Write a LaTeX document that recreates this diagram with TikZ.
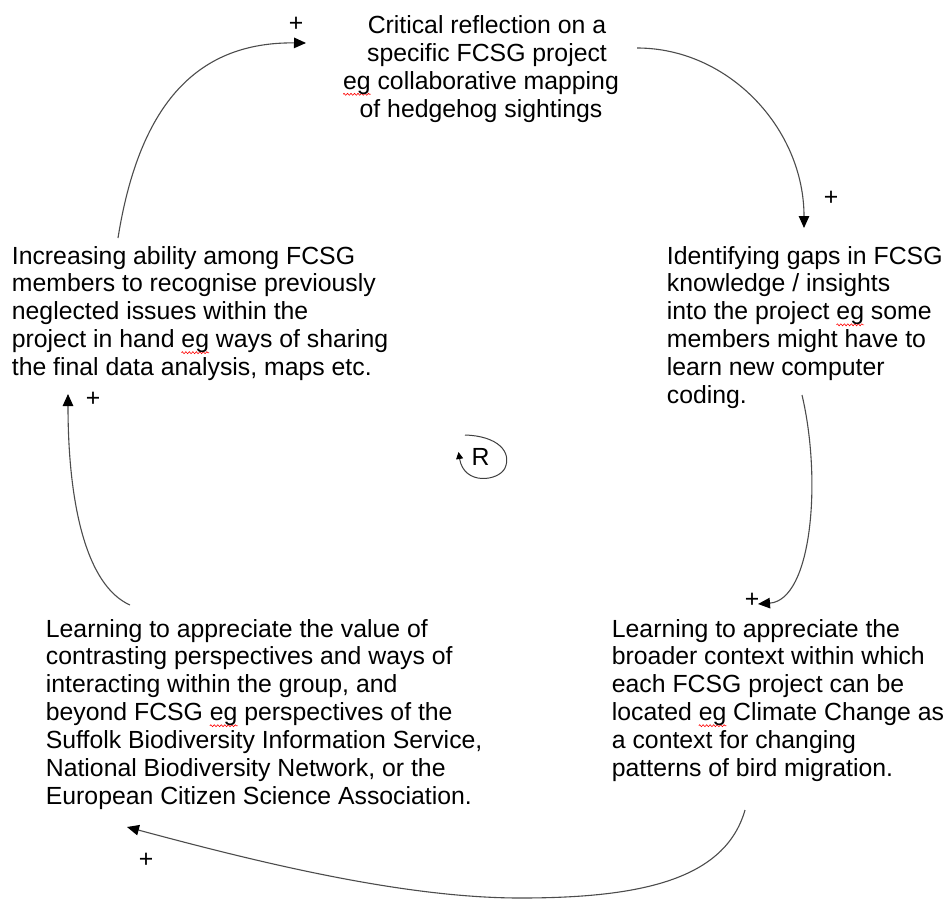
\documentclass[tikz,border=0pt]{standalone}
\usepackage{fontspec}
\setmainfont{Liberation Sans}
\usetikzlibrary{arrows.meta,decorations.pathmorphing}
\newsavebox\sqbox
\newcommand\sqeg[1]{\sbox\sqbox{#1}\rlap{\tikz[overlay,x=1pt,y=1pt]\draw[red,line width=0.6pt,decorate,decoration={zigzag,amplitude=1pt,segment length=3.5pt}] (0pt,-5pt) -- (\wd\sqbox,-5pt);}#1}
\newcommand\txtfont{\fontsize{24.8}{27.9}\selectfont}
\begin{document}
\begin{tikzpicture}[x=1pt,y=-1pt,
  txt/.style={inner sep=0pt,font=\txtfont},
  plus/.style={inner sep=0pt,font=\txtfont},
  link/.style={line width=1.1pt,draw=black!70,-{Triangle[length=12pt,width=10.5pt,color=black]}},
  rlink/.style={line width=1pt,draw=black!75,-{Triangle[length=7pt,width=7pt,color=black]}}]
\useasboundingbox (0,0) rectangle (949,899);
\fill[white] (0,0) rectangle (949,899);

\node[txt,anchor=base] (top) at (481,33.5) {\begin{tabular}[t]{@{}c@{}}\hspace*{12pt}Critical reflection on a\\ \hspace*{12pt}specific FCSG project\\ \sqeg{eg} collaborative mapping\\ of hedgehog sightings\end{tabular}};

\node[txt,anchor=base west] (right) at (666.7,264) {\begin{tabular}[t]{@{}l@{}}Identifying gaps in FCSG\\ knowledge / insights\\ into the project \sqeg{eg} some\\ members might have to\\ learn new computer\\ coding.\end{tabular}};

\node[txt,anchor=base west] (left) at (11.7,264) {\begin{tabular}[t]{@{}l@{}}Increasing ability among FCSG\\ members to recognise previously\\ neglected issues within the\\ project in hand \sqeg{eg} ways of sharing\\ the final data analysis, maps etc.\end{tabular}};

\node[txt,anchor=base west] (botleft) at (45.7,637) {\begin{tabular}[t]{@{}l@{}}Learning to appreciate the value of\\ contrasting perspectives and ways of\\ interacting within the group, and\\ beyond FCSG \sqeg{eg} perspectives of the\\ Suffolk Biodiversity Information Service,\\ National Biodiversity Network, or the\\ European Citizen Science Association.\end{tabular}};

\node[txt,anchor=base west] (botright) at (611.7,637) {\begin{tabular}[t]{@{}l@{}}Learning to appreciate the\\ broader context within which\\ each FCSG project can be\\ located \sqeg{eg} Climate Change as\\ a context for changing\\ patterns of bird migration.\end{tabular}};

\node[txt,anchor=base] (R) at (480.5,465) {R};

\node[plus] (p1) at (831,198) {+};
\node[plus] (p2) at (752,600) {+};
\node[plus] (p3) at (146,860) {+};
\node[plus] (p4) at (93,399) {+};
\node[plus] (p5) at (296,24) {+};

\coordinate (a1s) at (637,48);   \coordinate (a1e) at (804,228);
\coordinate (a2s) at (802,395);  \coordinate (a2e) at (758,604);
\coordinate (a3s) at (745,810);  \coordinate (a3e) at (127,827);
\coordinate (a4s) at (130,605);  \coordinate (a4e) at (68,394);
\coordinate (a5s) at (118,238);  \coordinate (a5e) at (306,43);
\coordinate (rs) at (465,435);   \coordinate (re) at (458.5,452);

\draw[link] (a1s) .. controls (729,48) and (804,129) .. (a1e);
\draw[link] (a2s) .. controls (822,480) and (812,600) .. (a2e);
\draw[link] (a3s) .. controls (725,880) and (640,898) .. (520,898) .. controls (400,898) and (250,860) .. (a3e);
\draw[link] (a4s) .. controls (85,585) and (68,500) .. (a4e);
\draw[link] (a5s) .. controls (140,100) and (200,42) .. (a5e);
\draw[rlink] (rs) .. controls (498,436) and (512,452) .. (505,468) .. controls (499,481) and (464,486) .. (re);
\end{tikzpicture}
\end{document}
